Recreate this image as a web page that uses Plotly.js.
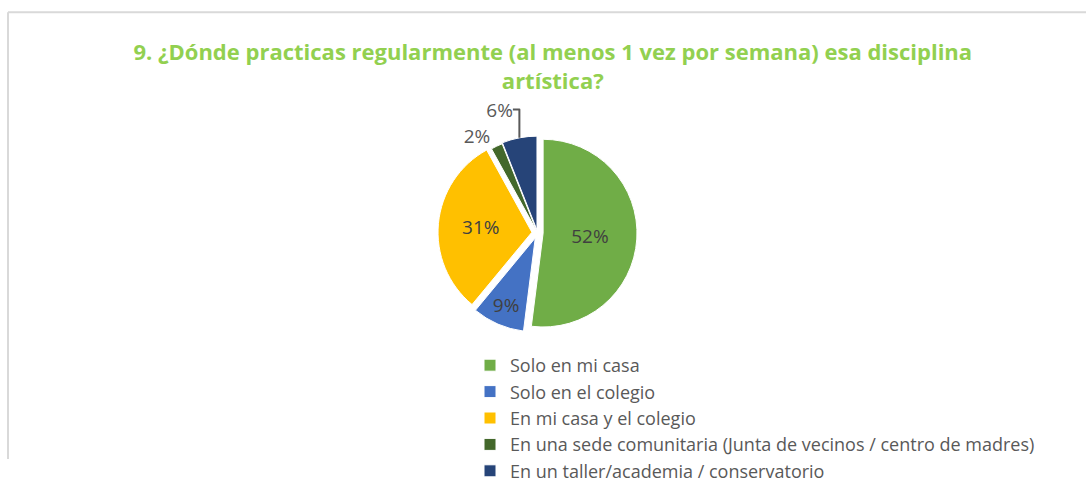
<!DOCTYPE html>
<html>
<head>
<meta charset="utf-8">
<script src="https://cdn.plot.ly/plotly-3.0.1.min.js"></script>
<style>
html,body{margin:0;padding:0;background:#fff;}
#chart{width:1086px;height:489px;}
</style>
</head>
<body>
<div id="chart"></div>
<script>
const categories = [
  "Solo en mi casa",
  "Solo en el colegio",
  "En mi casa y el colegio",
  "En una sede comunitaria (Junta de vecinos / centro de madres)",
  "En un taller/academia / conservatorio"
];
const percentages = [52, 9, 31, 2, 6];
const sliceColors = ["#70ad47", "#4472c4", "#ffc000", "#43682b", "#264478"];
const titleText = "9. ¿Dónde practicas regularmente (al menos 1 vez por semana) esa disciplina<br>artística?";

const H = 489, W = 1086;
const py = v => 1 - v / H;
const px = v => v / W;
const FONT = "'Open Sans', sans-serif";

const trace = {
  type: "pie",
  labels: categories,
  values: percentages,
  marker: {colors: sliceColors, line: {color: "#ffffff", width: 1}},
  sort: false,
  direction: "clockwise",
  rotation: 0,
  pull: [0.06, 0.06, 0.06, 0.02, 0.03],
  textinfo: "percent",
  texttemplate: "%{percent:.0%}",
  textposition: ["inside", "inside", "inside", "outside", "outside"],
  insidetextorientation: "horizontal",
  textfont: {family: FONT, size: 19, color: "#404040"},
  outsidetextfont: {family: FONT, size: 19, color: "#595959"},
  automargin: false,
  domain: {x: [px(395), px(680)], y: [py(354), py(142)]},
  showlegend: true,
  hoverinfo: "label+percent"
};

const layout = {
  width: W, height: H,
  margin: {l: 0, r: 0, t: 0, b: 0},
  paper_bgcolor: "#ffffff",
  title: {
    text: titleText,
    font: {family: FONT, size: 22, color: "#92d050", weight: "bold"},
    x: 0.509, xanchor: "center",
    xref: "container", yref: "container",
    y: 1 - 60 / H, yanchor: "middle"
  },
  legend: {
    x: px(470), y: py(370), xanchor: "left", yanchor: "top",
    orientation: "v",
    font: {family: FONT, size: 18, color: "#595959"},
    itemwidth: 30,
    bgcolor: "rgba(0,0,0,0)"
  },
  shapes: [
    {type: "line", xref: "paper", yref: "paper", x0: px(8), x1: 1, y0: py(13), y1: py(13), line: {color: "#d9d9d9", width: 2}},
    {type: "line", xref: "paper", yref: "paper", x0: px(8), x1: px(8), y0: py(13), y1: 0, line: {color: "#d9d9d9", width: 2}}
  ]
};

Plotly.newPlot("chart", [trace], layout, {displayModeBar: false, staticPlot: true});
</script>
</body>
</html>
